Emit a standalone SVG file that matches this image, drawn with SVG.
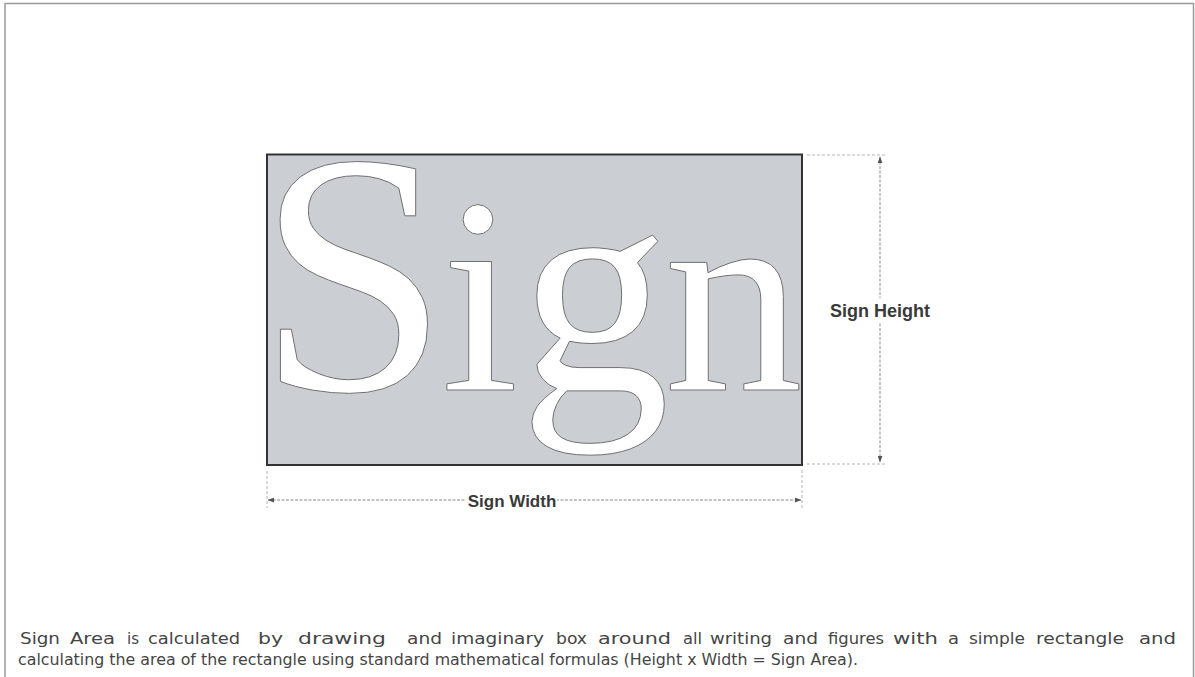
<svg xmlns="http://www.w3.org/2000/svg" width="1195" height="677" viewBox="0 0 1195 677">
  <defs>
    <style>
      .dim { stroke: #8a8a8a; stroke-width: 1; fill: none; stroke-dasharray: 3 1.5; }
      .ext { stroke: #b5b5b5; stroke-width: 1; fill: none; stroke-dasharray: 3 2; }
      .lbl { font-family: "Liberation Sans", Arial, sans-serif; font-weight: bold; fill: #3a3a3a; text-anchor: middle; }
      .para { font-family: "DejaVu Sans", "Liberation Sans", sans-serif; font-size: 16px; fill: #454545; }
      .big { font-family: "Liberation Serif", "Times New Roman", serif; fill: #ffffff; stroke: #707070; stroke-width: 1; }
    </style>
    <marker id="arr" viewBox="0 0 8 6" refX="7.5" refY="3" markerWidth="7" markerHeight="5" orient="auto-start-reverse" markerUnits="userSpaceOnUse">
      <path d="M0,0 L8,3 L0,6 Z" fill="#555"/>
    </marker>
  </defs>
  <rect width="1195" height="677" fill="#ffffff"/>
  <path d="M5,677 L5,3.5 L1193.5,3.5 L1193.5,677" fill="none" stroke="#9a9a9a" stroke-width="1.5"/>

  <g id="sign">
    <rect x="267" y="154.5" width="535" height="310.5" fill="#cbced3" stroke="#333" stroke-width="2"/>
    <text class="big" y="390"><tspan x="257" font-size="345">S</tspan><tspan x="441" font-size="280">i</tspan><tspan x="519" font-size="302">g</tspan><tspan x="664" font-size="278">n</tspan></text>
  </g>

  <g id="connectors">
    <line class="ext" x1="807" y1="155" x2="887" y2="155"/>
    <line class="ext" x1="807" y1="464" x2="887" y2="464"/>
    <line class="dim" x1="880" y1="157" x2="880" y2="462" marker-start="url(#arr)" marker-end="url(#arr)"/>
    <line class="ext" x1="267" y1="471" x2="267" y2="508"/>
    <line class="ext" x1="802" y1="470" x2="802" y2="508"/>
    <line class="dim" x1="268" y1="500" x2="801" y2="500" marker-start="url(#arr)" marker-end="url(#arr)"/>
  </g>

  <g id="height-label">
    <rect x="826" y="298" width="108" height="24" fill="#ffffff"/>
    <text class="lbl" x="880" y="317" font-size="18">Sign Height</text>
  </g>
  <g id="width-label">
    <rect x="466" y="492" width="91" height="18" fill="#ffffff"/>
    <text class="lbl" x="512" y="507" font-size="17">Sign Width</text>
  </g>

  <g id="caption">
    <text class="para" y="644">
      <tspan x="20" textLength="40" lengthAdjust="spacingAndGlyphs">Sign</tspan>
      <tspan x="70" textLength="45" lengthAdjust="spacingAndGlyphs">Area</tspan>
      <tspan x="127" textLength="12" lengthAdjust="spacingAndGlyphs">is</tspan>
      <tspan x="148" textLength="92" lengthAdjust="spacingAndGlyphs">calculated</tspan>
      <tspan x="258" textLength="25" lengthAdjust="spacingAndGlyphs">by</tspan>
      <tspan x="298" textLength="88" lengthAdjust="spacingAndGlyphs">drawing</tspan>
      <tspan x="407" textLength="35" lengthAdjust="spacingAndGlyphs">and</tspan>
      <tspan x="451" textLength="93" lengthAdjust="spacingAndGlyphs">imaginary</tspan>
      <tspan x="556" textLength="31" lengthAdjust="spacingAndGlyphs">box</tspan>
      <tspan x="598" textLength="73" lengthAdjust="spacingAndGlyphs">around</tspan>
      <tspan x="683" textLength="19" lengthAdjust="spacingAndGlyphs">all</tspan>
      <tspan x="710" textLength="62" lengthAdjust="spacingAndGlyphs">writing</tspan>
      <tspan x="783" textLength="35" lengthAdjust="spacingAndGlyphs">and</tspan>
      <tspan x="828" textLength="56" lengthAdjust="spacingAndGlyphs">figures</tspan>
      <tspan x="893" textLength="45" lengthAdjust="spacingAndGlyphs">with</tspan>
      <tspan x="948" textLength="11" lengthAdjust="spacingAndGlyphs">a</tspan>
      <tspan x="969" textLength="56" lengthAdjust="spacingAndGlyphs">simple</tspan>
      <tspan x="1036" textLength="88" lengthAdjust="spacingAndGlyphs">rectangle</tspan>
      <tspan x="1139" textLength="37" lengthAdjust="spacingAndGlyphs">and</tspan>
    </text>
    <text class="para" x="18" y="665" font-size="16.5" textLength="840" lengthAdjust="spacingAndGlyphs">calculating the area of the rectangle using standard mathematical formulas (Height x Width = Sign Area).</text>
  </g>
</svg>
